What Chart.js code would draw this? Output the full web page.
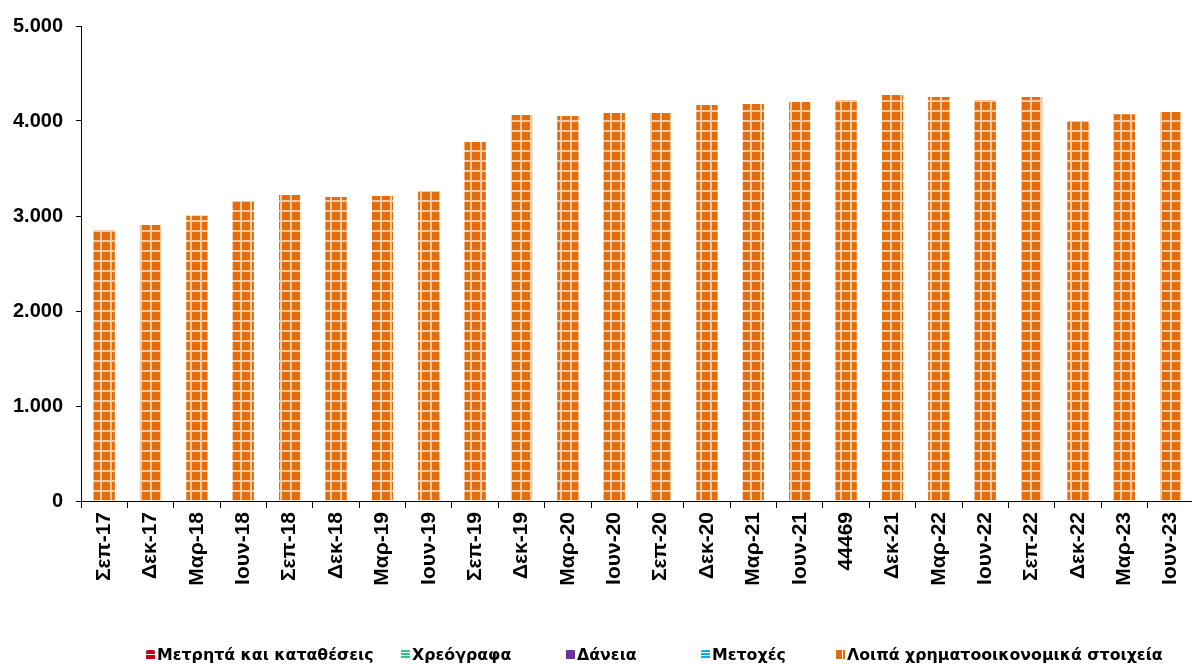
<!DOCTYPE html>
<html>
<head>
<meta charset="utf-8">
<script src="https://cdn.jsdelivr.net/npm/chart.js@4"></script>
<style>
  body { margin: 0; overflow: hidden; background: #fff; font-family: "Liberation Sans", Arial, sans-serif; }
  #wrap { position: relative; width: 1192px; height: 664px; overflow: hidden; }
  #chart { position: absolute; left: 0; top: 0; }
  .leg { position: absolute; top: 644px; font-family: "DejaVu Sans", sans-serif; font-weight: bold; font-size: 15.8px; color: #000; white-space: nowrap; line-height: 22px; }
  .ico { display: inline-block; width: 9px; height: 9px; margin-right: 2px; vertical-align: 1px; }
</style>
</head>
<body>
<div id="wrap">
  <canvas id="chart" width="1200" height="664"></canvas>
  <div class="leg" style="left:146px"><span class="ico" style="background:linear-gradient(#c0001c 0,#c0001c 40%,#fff 40%,#fff 55%,#c0001c 55%);border-radius:2px 2px 0 0"></span>Μετρητά και καταθέσεις</div>
  <div class="leg" style="left:401px"><span class="ico" style="background:repeating-linear-gradient(#3cc77a 0,#3cc77a 2px,#fff 2px,#fff 3px)"></span>Χρεόγραφα</div>
  <div class="leg" style="left:566px"><span class="ico" style="background:#7030a0;border-radius:1px"></span>Δάνεια</div>
  <div class="leg" style="left:701px"><span class="ico" style="background:repeating-linear-gradient(#1ea6e8 0,#1ea6e8 2px,#fff 2px,#fff 3px)"></span>Μετοχές</div>
  <div class="leg" style="left:836px"><span class="ico" style="background:linear-gradient(90deg,#e46c0a 0,#e46c0a 65%,#fff 65%,#fff 78%,#e46c0a 78%)"></span>Λοιπά χρηματοοικονομικά στοιχεία</div>
</div>
<script>
const categories = ['Σεπ-17', 'Δεκ-17', 'Μαρ-18', 'Ιουν-18', 'Σεπ-18', 'Δεκ-18', 'Μαρ-19', 'Ιουν-19',
    'Σεπ-19', 'Δεκ-19', 'Μαρ-20', 'Ιουν-20', 'Σεπ-20', 'Δεκ-20', 'Μαρ-21', 'Ιουν-21',
    '44469', 'Δεκ-21', 'Μαρ-22', 'Ιουν-22', 'Σεπ-22', 'Δεκ-22', 'Μαρ-23', 'Ιουν-23'];
const cashDeposits = [0, 0, 0, 0, 0, 0, 0, 0, 0, 0, 0, 0, 0, 0, 0, 0, 0, 0, 0, 0, 0, 0, 0, 0];
const securities = [0, 0, 0, 0, 0, 0, 0, 0, 0, 0, 0, 0, 0, 0, 0, 0, 0, 0, 0, 0, 0, 0, 0, 0];
const loans = [0, 0, 0, 0, 0, 0, 0, 0, 0, 0, 0, 0, 0, 0, 0, 0, 0, 0, 0, 0, 0, 0, 0, 0];
const shares = [0, 0, 0, 0, 0, 0, 0, 0, 0, 0, 0, 0, 0, 0, 0, 0, 0, 0, 0, 0, 0, 0, 0, 0];
const otherAssets = [2853, 2905, 3003, 3158, 3221, 3200, 3210, 3263,
    3779, 4063, 4053, 4084, 4084, 4168, 4179, 4200,
    4221, 4274, 4253, 4221, 4253, 4000, 4070, 4095];
const yTicks = [0, 1000, 2000, 3000, 4000, 5000];

function gridPattern(base, line) {
    const c = document.createElement('canvas');
    c.width = 10;
    c.height = 10;
    const g = c.getContext('2d');
    g.fillStyle = base;
    g.fillRect(0, 0, 10, 10);
    g.fillStyle = line;
    g.fillRect(0, 0, 10, 2);
    g.fillRect(0, 0, 2, 10);
    return g.createPattern(c, 'repeat');
}

function fmt(v) {
    return v.toString().replace(/\B(?=(\d{3})+(?!\d))/g, '.');
}

const ctx = document.getElementById('chart').getContext('2d');
const myChart = new Chart(ctx, {
    type: 'bar',
    data: {
        labels: categories,
        datasets: [
            { label: 'Μετρητά και καταθέσεις', data: cashDeposits, backgroundColor: '#c0001c' },
            { label: 'Χρεόγραφα', data: securities, backgroundColor: '#3cc77a' },
            { label: 'Δάνεια', data: loans, backgroundColor: '#7030a0' },
            { label: 'Μετοχές', data: shares, backgroundColor: '#1ea6e8' },
            { label: 'Λοιπά χρηματοοικονομικά στοιχεία', data: otherAssets, backgroundColor: gridPattern('#e46c0a', '#f7c9a0') }
        ]
    },
    options: {
        responsive: false,
        animation: false,
        layout: { padding: { top: 26, right: 5, left: 0, bottom: 0 } },
        plugins: { legend: { display: false }, tooltip: { enabled: false } },
        datasets: { bar: { categoryPercentage: 1, barPercentage: 0.46, borderWidth: 0 } },
        scales: {
            x: {
                stacked: true,
                offset: true,
                grid: { offset: true, drawOnChartArea: false, tickLength: 7, color: '#000' },
                border: { color: '#000', width: 1 },
                ticks: {
                    autoSkip: false, minRotation: 90, maxRotation: 90, padding: 4,
                    color: '#000', font: { family: 'Liberation Sans', weight: 'bold', size: 21 }
                },
                afterFit: function (s) { s.height = 163; }
            },
            y: {
                stacked: true,
                min: 0,
                max: 5000,
                afterBuildTicks: function (s) { s.ticks = yTicks.map(v => ({ value: v })); },
                grid: { drawOnChartArea: false, tickLength: 5, color: '#000' },
                border: { color: '#000', width: 1 },
                ticks: {
                    padding: 13, color: '#000',
                    font: { family: 'Liberation Sans', weight: 'bold', size: 20 },
                    callback: v => fmt(v)
                },
                afterFit: function (s) { s.width = 81; }
            }
        }
    }
});
</script>
</body>
</html>
